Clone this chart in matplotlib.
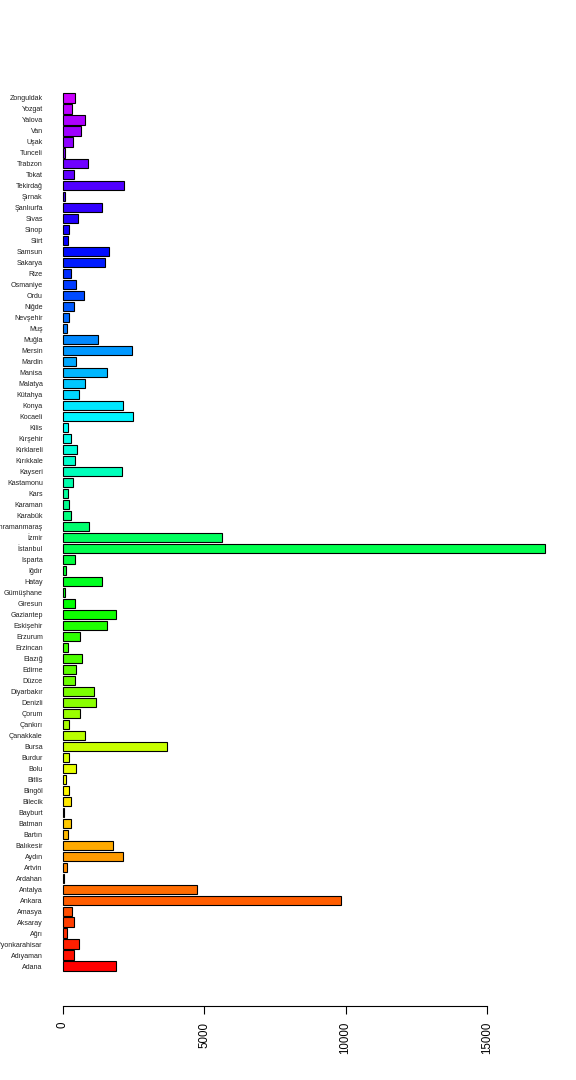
import colorsys
import numpy as np
import matplotlib
matplotlib.use('Agg')
import matplotlib.pyplot as plt

plt.rcParams['font.family'] = ['Liberation Sans', 'DejaVu Sans']

# Provincias (de abajo hacia arriba) y casos
provincias = ['Adana', 'Adıyaman', 'Afyonkarahisar', 'Ağrı', 'Aksaray', 'Amasya', 'Ankara', 'Antalya',
              'Ardahan', 'Artvin', 'Aydın', 'Balıkesir', 'Bartın', 'Batman', 'Bayburt', 'Bilecik',
              'Bingöl', 'Bitlis', 'Bolu', 'Burdur', 'Bursa', 'Çanakkale', 'Çankırı', 'Çorum',
              'Denizli', 'Diyarbakır', 'Düzce', 'Edirne', 'Elazığ', 'Erzincan', 'Erzurum', 'Eskişehir',
              'Gaziantep', 'Giresun', 'Gümüşhane', 'Hatay', 'Iğdır', 'Isparta', 'İstanbul', 'İzmir',
              'Kahramanmaraş', 'Karabük', 'Karaman', 'Kars', 'Kastamonu', 'Kayseri', 'Kırıkkale',
              'Kırklareli', 'Kırşehir', 'Kilis', 'Kocaeli', 'Konya', 'Kütahya', 'Malatya', 'Manisa',
              'Mardin', 'Mersin', 'Muğla', 'Muş', 'Nevşehir', 'Niğde', 'Ordu', 'Osmaniye', 'Rize',
              'Sakarya', 'Samsun', 'Siirt', 'Sinop', 'Sivas', 'Şanlıurfa', 'Şırnak', 'Tekirdağ',
              'Tokat', 'Trabzon', 'Tunceli', 'Uşak', 'Van', 'Yalova', 'Yozgat', 'Zonguldak']

casos = [1875, 390, 565, 140, 390, 320, 9830, 4740,
         35, 140, 2120, 1770, 175, 285, 35, 285,
         210, 105, 460, 210, 3670, 780, 210, 600,
         1165, 1095, 425, 460, 670, 175, 600, 1555,
         1875, 425, 70, 1380, 105, 425, 17060, 5640,
         920, 285, 210, 175, 375, 2085, 425,
         495, 285, 175, 2475, 2120, 565, 780, 1555,
         460, 2440, 1240, 140, 210, 390, 745, 460, 285,
         1485, 1625, 175, 210, 530, 1390, 70, 2160,
         390, 885, 70, 355, 635, 780, 320, 425]

ticks_x = [0, 5000, 10000, 15000]

# colores tipo rainbow() de R, de rojo a violeta
n = len(provincias)
colores = [colorsys.hsv_to_rgb(h, 1, 1) for h in np.linspace(0, 0.8, n)]

fig = plt.figure(figsize=(5.76, 10.8), dpi=100)
ax = fig.add_axes([0.0755, 0.0688, 0.9045, 0.8772])

# posiciones como barplot de R (ancho 1, espacio 0.2)
pos = 0.7 + 1.2 * np.arange(n)
ax.barh(pos, casos, height=1.0, color=colores, edgecolor='black', linewidth=0.8)

m = max(casos)
ax.set_xlim(-0.04 * m, 1.04 * m)
ymin, ymax = 0.2, pos[-1] + 0.5
rango = ymax - ymin
ax.set_ylim(ymin - 0.04 * rango, ymax + 0.04 * rango)

ax.set_yticks(pos)
ax.set_yticklabels(provincias, fontsize=5.1, color='#222222')
ax.tick_params(axis='y', length=0, pad=0.5)

ax.set_xticks(ticks_x)
ax.set_xticklabels([str(t) for t in ticks_x], rotation=90, fontsize=8.3)
ax.tick_params(axis='x', length=5.4, width=0.8, pad=6)

for lado in ['top', 'right', 'left']:
    ax.spines[lado].set_visible(False)
ax.spines['bottom'].set_bounds(0, 15000)
ax.spines['bottom'].set_linewidth(0.8)

fig.savefig('out.png', dpi=100)
